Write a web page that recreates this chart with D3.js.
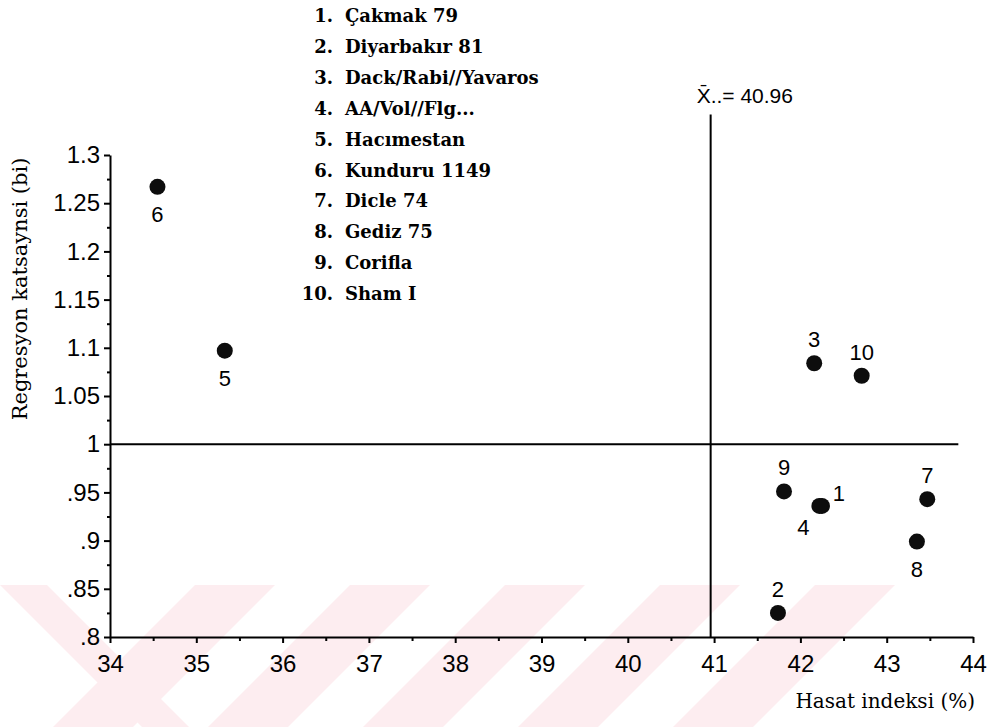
<!DOCTYPE html>
<html><head><meta charset="utf-8">
<script src="https://cdn.jsdelivr.net/npm/d3@7"></script>
<style>body{margin:0;background:#fff}</style>
</head><body><svg id="c" width="990" height="727"></svg>
<script>
// ---- data ----
const ids = [1, 2, 3, 4, 5, 6, 7, 8, 9, 10];
const names = ["Çakmak 79", "Diyarbakır 81", "Dack/Rabi//Yavaros", "AA/Vol//Flg...", "Hacımestan",
               "Kunduru 1149", "Dicle 74", "Gediz 75", "Corifla", "Sham I"];
const harvestIndex = [42.25, 41.74, 42.16, 42.22, 35.33, 34.55, 43.47, 43.35, 41.81, 42.71];
const regCoef      = [0.936, 0.825, 1.084, 0.936, 1.097, 1.267, 0.943, 0.899, 0.951, 1.071];
const xTicks = [34, 35, 36, 37, 38, 39, 40, 41, 42, 43, 44];
const yTicks = [0.8, 0.85, 0.9, 0.95, 1, 1.05, 1.1, 1.15, 1.2, 1.25, 1.3];
const yTickLabels = [".8", ".85", ".9", ".95", "1", "1.05", "1.1", "1.15", "1.2", "1.25", "1.3"];
const meanX = 40.96;
const meanLabel = "X\u0304..= 40.96";
const refY = 1;
const xTitle = "Hasat indeksi (%)";
const yTitle = "Regresyon katsaynsi (bi)";
// label placement relative to each dot (styling)
const labelSide = ["right", "above", "above", "belowLeft", "below", "below", "above", "below", "above", "above"];

// ---- drawing ----
const svg = d3.select("#c");

// watermark (background decoration)
const wm = svg.append("g").attr("fill", "#fdedf0");
const wTop = 585, wBot = 727, dh = wBot - wTop;
[195, 350, 505, 660, 815].forEach(L => {
  const w = 80;
  wm.append("polygon").attr("points",
    [[L, wTop], [L + w, wTop], [L + w - dh, wBot], [L - dh, wBot]].map(p => p.join(",")).join(" "));
});
wm.append("polygon").attr("points", [[0, wTop], [47, wTop], [189, wBot], [142, wBot]].map(p => p.join(",")).join(" "));

const x = d3.scaleLinear().domain([34, 44]).range([110, 973]);
const y = d3.scaleLinear().domain([0.8, 1.3]).range([637, 155]);

const sans = "'Liberation Sans', Arial, sans-serif";
const serif = "'DejaVu Serif', serif";

// minor ticks
const yMinor = d3.range(0.825, 1.3, 0.05);
const xMinor = d3.range(34.5, 44, 1);
svg.append("g").attr("transform", "translate(110,0)")
  .call(d3.axisLeft(y).tickValues(yMinor).tickSize(3).tickFormat("").tickSizeOuter(0))
  .call(g => g.select(".domain").remove())
  .selectAll("line").attr("stroke-width", 2);
svg.append("g").attr("transform", "translate(0,637)")
  .call(d3.axisBottom(x).tickValues(xMinor).tickSize(4).tickFormat("").tickSizeOuter(0))
  .call(g => g.select(".domain").remove())
  .selectAll("line").attr("stroke-width", 2);

// y axis
const gy = svg.append("g").attr("transform", "translate(110,0)")
  .call(d3.axisLeft(y).tickValues(yTicks).tickFormat((d, i) => yTickLabels[i]).tickSize(6).tickPadding(4).tickSizeOuter(0));
gy.select(".domain").attr("stroke-width", 2);
gy.selectAll("line").attr("stroke-width", 2);
gy.selectAll("text").attr("font-family", sans).attr("font-size", 24).attr("fill", "#000");

// x axis
const gx = svg.append("g").attr("transform", "translate(0,637)")
  .call(d3.axisBottom(x).tickValues(xTicks).tickFormat(d3.format("d")).tickSize(6).tickPadding(12).tickSizeOuter(0));
gx.select(".domain").attr("stroke-width", 2);
gx.selectAll("line").attr("stroke-width", 2);
gx.selectAll("text").attr("font-family", sans).attr("font-size", 24).attr("fill", "#000");

// reference lines
svg.append("line").attr("x1", x(meanX)).attr("x2", x(meanX))
  .attr("y1", y(1.342)).attr("y2", y(0.8)).attr("stroke", "#000").attr("stroke-width", 2);
svg.append("line").attr("x1", x(34)).attr("x2", x(43.83))
  .attr("y1", y(refY)).attr("y2", y(refY)).attr("stroke", "#000").attr("stroke-width", 2);
svg.append("text").attr("x", x(meanX) - 14).attr("y", y(1.342) - 12)
  .attr("font-family", sans).attr("font-size", 21).text(meanLabel);

// points
const pts = ids.map((id, i) => ({ id, hx: harvestIndex[i], by: regCoef[i], side: labelSide[i] }));
svg.append("g").selectAll("circle").data(pts).join("circle")
  .attr("cx", d => x(d.hx)).attr("cy", d => y(d.by)).attr("r", 8).attr("fill", "#0d0d0d");

const off = {
  above: [0, -16], below: [0, 35], right: [17, -5], belowLeft: [-16, 29]
};
svg.append("g").selectAll("text").data(pts).join("text")
  .attr("x", d => x(d.hx) + off[d.side][0]).attr("y", d => y(d.by) + off[d.side][1])
  .attr("text-anchor", "middle").attr("font-family", sans).attr("font-size", 22)
  .text(d => d.id);

// legend list
const leg = svg.append("g").attr("font-family", serif).attr("font-size", 18).attr("font-weight", "bold");
ids.forEach((id, i) => {
  const yy = 22 + i * 30.9;
  leg.append("text").attr("x", 333).attr("y", yy).attr("text-anchor", "end").text(id + ".");
  leg.append("text").attr("x", 345).attr("y", yy).text(names[i]);
});

// axis titles
svg.append("text").attr("transform", "translate(27,289) rotate(-90)")
  .attr("text-anchor", "middle").attr("font-family", serif).attr("font-size", 21).text(yTitle);
svg.append("text").attr("x", 975).attr("y", 708).attr("text-anchor", "end")
  .attr("font-family", serif).attr("font-size", 20).text(xTitle);
</script>
</body></html>
